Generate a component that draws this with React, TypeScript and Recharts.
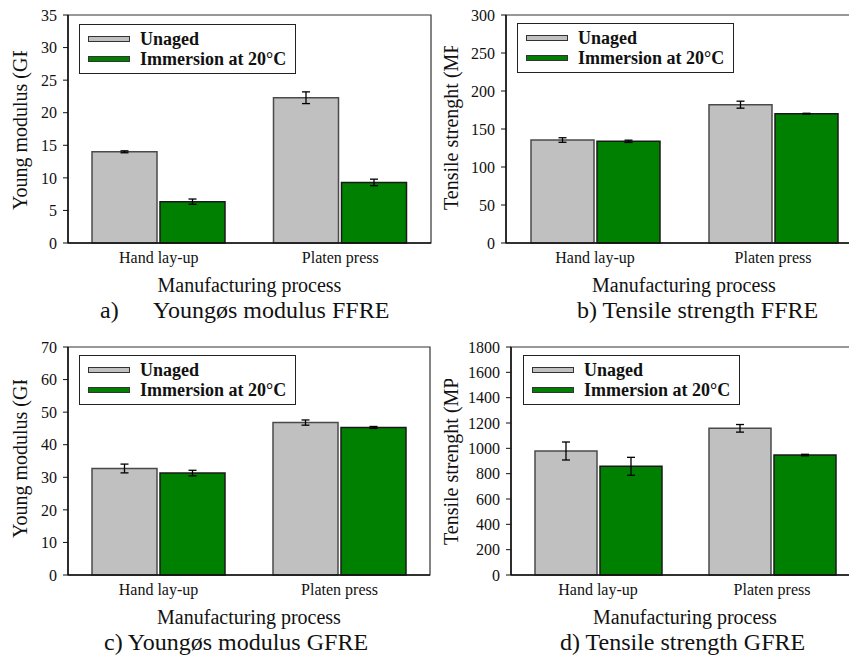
import React from "react";
import { BarChart, Bar, XAxis, YAxis, ErrorBar, Legend, ReferenceArea, Label } from "recharts";

const SERIF = "Liberation Serif, Tinos, DejaVu Serif, serif";

const processes = ["Hand lay-up", "Platen press"];

// a) Young modulus FFRE (GPa)
const youngFfreUnaged = [14.0, 22.3];
const youngFfreUnagedErr = [0.15, 0.9];
const youngFfreImmersion = [6.35, 9.3];
const youngFfreImmersionErr = [0.4, 0.5];
const youngFfreTicks = [0, 5, 10, 15, 20, 25, 30, 35];

// b) Tensile strength FFRE (MPa)
const tensileFfreUnaged = [135.5, 182];
const tensileFfreUnagedErr = [3, 4.6];
const tensileFfreImmersion = [133.8, 170.2];
const tensileFfreImmersionErr = [1.5, 0.5];
const tensileFfreTicks = [0, 50, 100, 150, 200, 250, 300];

// c) Young modulus GFRE (GPa)
const youngGfreUnaged = [32.7, 46.8];
const youngGfreUnagedErr = [1.35, 0.8];
const youngGfreImmersion = [31.3, 45.3];
const youngGfreImmersionErr = [0.85, 0.3];
const youngGfreTicks = [0, 10, 20, 30, 40, 50, 60, 70];

// d) Tensile strength GFRE (MPa)
const tensileGfreUnaged = [979, 1158];
const tensileGfreUnagedErr = [71, 30];
const tensileGfreImmersion = [858, 947];
const tensileGfreImmersionErr = [71, 6];
const tensileGfreTicks = [0, 200, 400, 600, 800, 1000, 1200, 1400, 1600, 1800];

const seriesOrder = ["unaged", "immersion"];

const panels = [
  {
    id: "a", unaged: youngFfreUnaged, unagedErr: youngFfreUnagedErr,
    immersion: youngFfreImmersion, immersionErr: youngFfreImmersionErr, ticks: youngFfreTicks,
    yLabel: "Young modulus (GPa)",
    left: 0, top: 0, width: 440, height: 330,
    margin: { top: 15, right: 9, bottom: 57, left: 8 },
    barSize: 65, barGap: 3, legendLeft: 79, legendTop: 24,
    labelX: 27, labelY: 210, clipY: 51,
  },
  {
    id: "b", unaged: tensileFfreUnaged, unagedErr: tensileFfreUnagedErr,
    immersion: tensileFfreImmersion, immersionErr: tensileFfreImmersionErr, ticks: tensileFfreTicks,
    yLabel: "Tensile strenght (MPa)",
    left: 430, top: 0, width: 440, height: 330,
    margin: { top: 15, right: 8, bottom: 57, left: 16 },
    barSize: 63, barGap: 3, legendLeft: 87, legendTop: 23,
    labelX: 28, labelY: 210, clipY: 46,
  },
  {
    id: "c", unaged: youngGfreUnaged, unagedErr: youngGfreUnagedErr,
    immersion: youngGfreImmersion, immersionErr: youngGfreImmersionErr, ticks: youngGfreTicks,
    yLabel: "Young modulus (GPa)",
    left: 0, top: 330, width: 440, height: 327,
    margin: { top: 17, right: 10, bottom: 52, left: 8 },
    barSize: 65, barGap: 3, legendLeft: 79, legendTop: 25,
    labelX: 27, labelY: 208, clipY: 50,
  },
  {
    id: "d", unaged: tensileGfreUnaged, unagedErr: tensileGfreUnagedErr,
    immersion: tensileGfreImmersion, immersionErr: tensileGfreImmersionErr, ticks: tensileGfreTicks,
    yLabel: "Tensile strenght (MPa)",
    left: 430, top: 330, width: 440, height: 327,
    margin: { top: 17, right: 11, bottom: 52, left: 21 },
    barSize: 62, barGap: 3, legendLeft: 93, legendTop: 25,
    labelX: 28, labelY: 215, clipY: 49,
  },
];

const LegendBox = ({ payload }: any) => {
  const items = [...(payload || [])].sort(
    (a: any, b: any) => seriesOrder.indexOf(a.dataKey) - seriesOrder.indexOf(b.dataKey)
  );
  return (
    <div style={{ border: "1px solid #222", padding: "4px 9px 4px 8px", background: "#fff", fontFamily: SERIF }}>
      {items.map((e: any) => (
        <div key={e.value} style={{ display: "flex", alignItems: "center", height: 20 }}>
          <span style={{ display: "inline-block", width: 40, height: 4, border: "1px solid #333", background: e.color, marginRight: 10 }} />
          <span style={{ fontWeight: "bold", fontSize: 18, lineHeight: "20px", color: "#111", whiteSpace: "nowrap" }}>{e.value}</span>
        </div>
      ))}
    </div>
  );
};

const Panel = ({ cfg }: any) => {
  const data = processes.map((p, i) => ({
    process: p,
    unaged: cfg.unaged[i],
    unagedErr: cfg.unagedErr[i],
    immersion: cfg.immersion[i],
    immersionErr: cfg.immersionErr[i],
  }));
  const yMax = cfg.ticks[cfg.ticks.length - 1];
  const lx = cfg.labelX;

  return (
    <div style={{ position: "absolute", left: cfg.left, top: cfg.top }}>
      <BarChart width={cfg.width} height={cfg.height} data={data} margin={cfg.margin} barGap={cfg.barGap} barSize={cfg.barSize}>
        <ReferenceArea y1={0} y2={yMax} fill="none" stroke="#333" strokeWidth={1.2} ifOverflow="visible" />
        <XAxis
          dataKey="process"
          tickLine={false}
          axisLine={{ stroke: "#111", strokeWidth: 1.5 }}
          tick={{ fill: "#111", fontSize: 16, fontFamily: SERIF }}
          height={30}
          tickMargin={3}
          interval={0}
        >
          <Label value="Manufacturing process" position="bottom" offset={5} fill="#111" fontSize={20} fontFamily={SERIF} />
        </XAxis>
        <YAxis
          type="number"
          domain={[0, yMax]}
          ticks={cfg.ticks}
          width={60}
          tickSize={5}
          tickMargin={6}
          axisLine={{ stroke: "#111", strokeWidth: 1.5 }}
          tickLine={{ stroke: "#111" }}
          tick={{ fill: "#111", fontSize: 16, fontFamily: SERIF }}
        >
          <Label
            content={() => (
              <g clipPath={`url(#ylab-${cfg.id})`}>
                <defs>
                  <clipPath id={`ylab-${cfg.id}`}>
                    <rect x={0} y={cfg.clipY} width={70} height={400} />
                  </clipPath>
                </defs>
                <text x={lx} y={cfg.labelY} transform={`rotate(-90 ${lx} ${cfg.labelY})`} fontSize={20} fontFamily={SERIF} fill="#111">
                  {cfg.yLabel}
                </text>
              </g>
            )}
          />
        </YAxis>
        <Legend
          layout="vertical"
          align="center"
          verticalAlign="middle"
          wrapperStyle={{ left: cfg.legendLeft, top: cfg.legendTop }}
          content={<LegendBox />}
        />
        <Bar dataKey="unaged" name="Unaged" fill="#C0C0C0" stroke="#4a4a4a" strokeWidth={1.5} isAnimationActive={false}>
          <ErrorBar dataKey="unagedErr" width={4} stroke="#000" strokeWidth={1.3} />
        </Bar>
        <Bar dataKey="immersion" name="Immersion at 20°C" fill="#008000" stroke="#1a1a1a" strokeWidth={1.5} isAnimationActive={false}>
          <ErrorBar dataKey="immersionErr" width={4} stroke="#000" strokeWidth={1.3} />
        </Bar>
      </BarChart>
    </div>
  );
};

export default function App() {
  return (
    <div style={{ position: "absolute", left: 0, top: 0, width: 849, height: 657, overflow: "hidden", background: "#fff" }}>
      {panels.map((p) => (
        <Panel key={p.id} cfg={p} />
      ))}
      <svg width={849} height={657} style={{ position: "absolute", left: 0, top: 0, pointerEvents: "none" }}>
        <g fontFamily={SERIF} fontSize={24} fill="#111">
          <text x={100} y={318}>a)</text>
          <text x={153} y={318}>Youngøs modulus FFRE</text>
          <text x={577} y={318}>b) Tensile strength FFRE</text>
          <text x={104} y={650}>c) Youngøs modulus GFRE</text>
          <text x={560} y={650}>d) Tensile strength GFRE</text>
        </g>
      </svg>
    </div>
  );
}
